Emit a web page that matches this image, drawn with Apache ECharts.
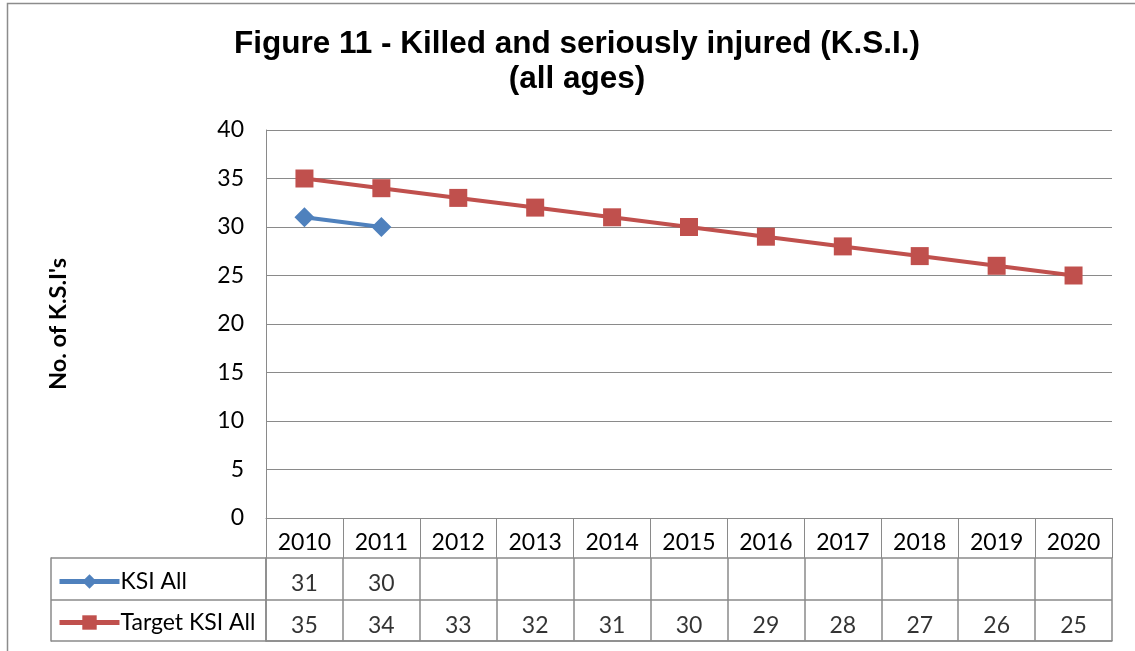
<!DOCTYPE html>
<html><head><meta charset="utf-8">
<script src="https://cdn.jsdelivr.net/npm/echarts@6/dist/echarts.min.js"></script>
<style>html,body{margin:0;padding:0;background:#fff}#c{width:1135px;height:651px}</style>
</head><body><div id="c"></div>
<script>
var years = ['2010','2011','2012','2013','2014','2015','2016','2017','2018','2019','2020'];
var ksiAll = [31, 30, null, null, null, null, null, null, null, null, null];
var targetKsiAll = [35, 34, 33, 32, 31, 30, 29, 28, 27, 26, 25];
var rowNames = ['KSI All', 'Target KSI All'];
var yTicks = {min: 0, max: 40, interval: 5};

var gridColor = '#8a8a8a';
var labelFont = 'Lato, "Open Sans", sans-serif';

function tableData(values, row) {
  var out = [];
  values.forEach(function (v, i) { if (v !== null) out.push([i, row, v]); });
  return out;
}

var chart = echarts.init(document.getElementById('c'));
chart.setOption({
  animation: false,
  title: {
    text: 'Figure 11 - Killed and seriously injured (K.S.I.)\n(all ages)',
    left: 572, textAlign: 'center', top: 22,
    textStyle: {fontFamily: '"Liberation Sans", Arial, sans-serif', fontWeight: 'bold', fontSize: 31.5, lineHeight: 35, color: '#000'}
  },
  graphic: [{type: 'rect', shape: {x: 7.5, y: 3.5, width: 1200, height: 700}, style: {fill: 'none', stroke: '#8c8c8c', lineWidth: 1.5}, silent: true}],
  legend: {
    orient: 'vertical', left: 52, top: 565, itemWidth: 60, itemHeight: 18, itemGap: 18,
    data: ['KSI All', 'Target KSI All'],
    lineStyle: {width: 5},
    textStyle: {fontFamily: labelFont, fontSize: 23, color: '#000', padding: [0, 0, 0, -4]}
  },
  grid: [
    {left: 266, top: 130, width: 846, height: 388},
    {left: 266, top: 558, width: 846, height: 83}
  ],
  xAxis: [
    {type: 'category', data: years, gridIndex: 0, boundaryGap: true,
     axisLine: {lineStyle: {color: gridColor}},
     axisTick: {show: true, length: 40, lineStyle: {color: gridColor}},
     axisLabel: {interval: 0, margin: 13, fontSize: 23, color: '#000', fontFamily: labelFont}},
    {type: 'category', data: years, gridIndex: 1, boundaryGap: true,
     axisLine: {show: true, lineStyle: {color: gridColor, width: 1.5}},
     axisTick: {show: false}, axisLabel: {show: false},
     splitLine: {show: true, interval: 0, lineStyle: {color: gridColor, width: 1.5}}}
  ],
  yAxis: [
    {type: 'value', gridIndex: 0, min: yTicks.min, max: yTicks.max, interval: yTicks.interval,
     name: "No. of K.S.I's", nameLocation: 'middle', nameGap: 196,
     nameTextStyle: {fontFamily: labelFont, fontWeight: 'bold', fontSize: 23.5, color: '#000'},
     axisLine: {show: true, lineStyle: {color: gridColor}},
     axisTick: {show: false},
     splitLine: {lineStyle: {color: gridColor}},
     axisLabel: {fontSize: 23, margin: 22, color: '#000', fontFamily: labelFont}},
    {type: 'category', gridIndex: 1, data: rowNames, inverse: true, boundaryGap: true,
     axisLine: {show: true, lineStyle: {color: gridColor, width: 1.5}},
     axisTick: {show: true, length: 215, lineStyle: {color: gridColor, width: 1.5}},
     axisLabel: {show: false},
     splitLine: {show: true, interval: 0, lineStyle: {color: gridColor, width: 1.5}}},
    {type: 'category', gridIndex: 1, data: rowNames, inverse: true, offset: 215, position: 'left',
     axisLine: {show: true, lineStyle: {color: gridColor, width: 1.5}},
     axisTick: {show: false}, axisLabel: {show: false}, splitLine: {show: false}}
  ],
  series: [
    {name: 'KSI All', type: 'line', xAxisIndex: 0, yAxisIndex: 0, data: ksiAll,
     symbol: 'diamond', symbolSize: 20, color: '#4F81BD', lineStyle: {width: 4, color: '#4F81BD'}},
    {name: 'Target KSI All', type: 'line', xAxisIndex: 0, yAxisIndex: 0, data: targetKsiAll,
     symbol: 'rect', symbolSize: 18, color: '#C0504D', lineStyle: {width: 4, color: '#C0504D'}},
    {name: 'tbl0', type: 'scatter', xAxisIndex: 1, yAxisIndex: 1, data: tableData(ksiAll, 0),
     symbolSize: 0, silent: true,
     label: {show: true, position: 'inside', offset: [0, 5], formatter: function (p) { return p.value[2]; }, fontSize: 23, color: '#000', fontFamily: labelFont}},
    {name: 'tbl1', type: 'scatter', xAxisIndex: 1, yAxisIndex: 1, data: tableData(targetKsiAll, 1),
     symbolSize: 0, silent: true,
     label: {show: true, position: 'inside', offset: [0, 5], formatter: function (p) { return p.value[2]; }, fontSize: 23, color: '#000', fontFamily: labelFont}}
  ]
});
</script></body></html>
